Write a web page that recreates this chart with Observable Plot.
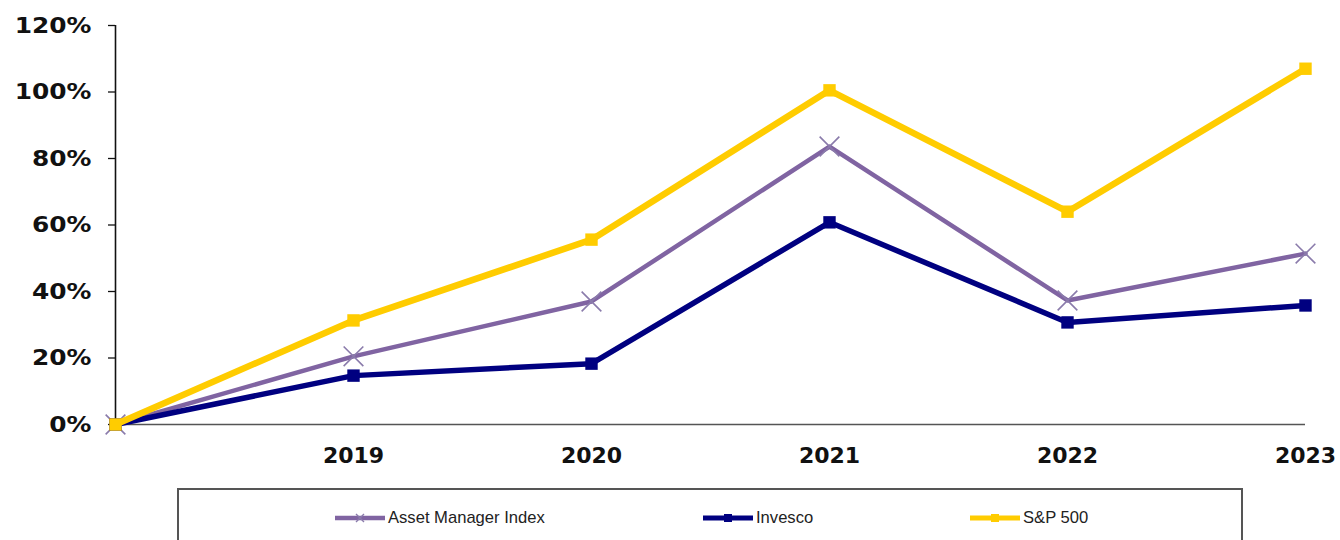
<!DOCTYPE html>
<html><head><meta charset="utf-8">
<script src="https://cdn.jsdelivr.net/npm/d3@7"></script>
<script src="https://cdn.jsdelivr.net/npm/@observablehq/plot@0.6"></script>
<style>
body{margin:0;background:#fff;}
#chart svg{display:block;}
#legend{position:relative;margin-left:177px;width:1066px;height:60px;border:2px solid #555;border-bottom:none;box-sizing:border-box;}
.item{position:absolute;top:17px;height:22px;display:flex;align-items:center;font-family:"Liberation Sans",Arial,sans-serif;font-size:16.6px;color:#222;}
.item svg{display:block;margin-right:3px;}
</style></head><body>
<div id="chart"></div>
<div id="legend"></div>
<script>
const years = [2018, 2019, 2020, 2021, 2022, 2023];
const tickYears = [2019, 2020, 2021, 2022, 2023];
const yTicks = [0, 20, 40, 60, 80, 100, 120];
const seriesNames = ["Asset Manager Index", "Invesco", "S&P 500"];
const assetManagerIndex = [0, 20.5, 37.0, 83.6, 37.3, 51.4];
const invesco = [0, 14.7, 18.3, 60.8, 30.7, 35.8];
const sp500 = [0, 31.3, 55.6, 100.5, 64.0, 107.0];
const colors = ["#8064a2", "#000080", "#ffcc00"];

const seriesValues = [assetManagerIndex, invesco, sp500];
const rows = seriesNames.flatMap((s, i) => years.map((y, j) => ({series: s, year: y, value: seriesValues[i][j]})));
const of = s => rows.filter(d => d.series === s);

const axisFont = {fontFamily: "DejaVu Sans, Verdana, sans-serif", fontWeight: "bold", fontSize: 22, fill: "#111"};

const chart = Plot.plot({
  width: 1340,
  height: 488,
  marginLeft: 115,
  marginRight: 35,
  marginTop: 25,
  marginBottom: 64,
  x: {domain: [2018, 2023], axis: null},
  y: {domain: [0, 120], axis: null},
  marks: [
    Plot.axisY({ticks: yTicks, tickSize: 7, tickPadding: 17, tickFormat: d => d + "%", label: null, stroke: "#111", strokeWidth: 1.3, ...axisFont}),
    Plot.axisX({ticks: tickYears, tickSize: 0, tickPadding: 23, tickFormat: d => String(d), label: null, ...axisFont}),
    Plot.ruleY([0], {x1: 2018, x2: 2023, stroke: "#555", strokeWidth: 1.6}),
    Plot.ruleX([2018], {y1: 0, y2: 120, stroke: "#111", strokeWidth: 1.6}),
    Plot.line(of("Asset Manager Index"), {x: "year", y: "value", stroke: colors[0], strokeWidth: 4.5}),
    Plot.dot(of("Asset Manager Index"), {x: "year", y: "value", symbol: "times", r: 9, stroke: "#8a7bab", strokeWidth: 1.6}),
    Plot.line(of("Invesco"), {x: "year", y: "value", stroke: colors[1], strokeWidth: 5.5}),
    Plot.dot(of("Invesco"), {x: "year", y: "value", symbol: "square", r: 7, fill: colors[1]}),
    Plot.line(of("S&P 500"), {x: "year", y: "value", stroke: colors[2], strokeWidth: 6.5}),
    Plot.dot(of("S&P 500"), {x: "year", y: "value", symbol: "square", r: 7, fill: colors[2]})
  ]
});

// emulate the wider percent glyphs of the original's bold axis font
function stretch(sel, k) {
  sel.each(function() {
    const t = this.getAttribute("transform");
    if (t) this.setAttribute("transform", t + ` scale(${k},1)`);
    else {
      const x = +this.getAttribute("x") || 0, y = +this.getAttribute("y") || 0;
      this.removeAttribute("x"); this.removeAttribute("y");
      this.setAttribute("transform", `translate(${x},${y}) scale(${k},1)`);
    }
  });
}
const svg = d3.select(chart);
svg.selectAll("g[aria-label='y-axis tick label'] text").call(stretch, 1.13);
document.getElementById("chart").appendChild(chart);

// legend
const legendX = [335, 703, 970];
const legend = d3.select("#legend");
seriesNames.forEach((name, i) => {
  const item = legend.append("div").attr("class", "item").style("left", (legendX[i] - 179) + "px");
  const s = item.append("svg").attr("width", 50).attr("height", 22);
  s.append("line").attr("x1", 0).attr("x2", 50).attr("y1", 11).attr("y2", 11).attr("stroke", colors[i]).attr("stroke-width", i === 0 ? 4.5 : 5);
  if (i === 0) {
    s.append("path").attr("d", "M21,7L29,15M21,15L29,7").attr("stroke", "#8a7bab").attr("stroke-width", 1.4);
  } else {
    s.append("rect").attr("x", 21).attr("y", 7).attr("width", 8).attr("height", 8).attr("fill", colors[i]);
  }
  item.append("span").text(name);
});
</script>
</body></html>
